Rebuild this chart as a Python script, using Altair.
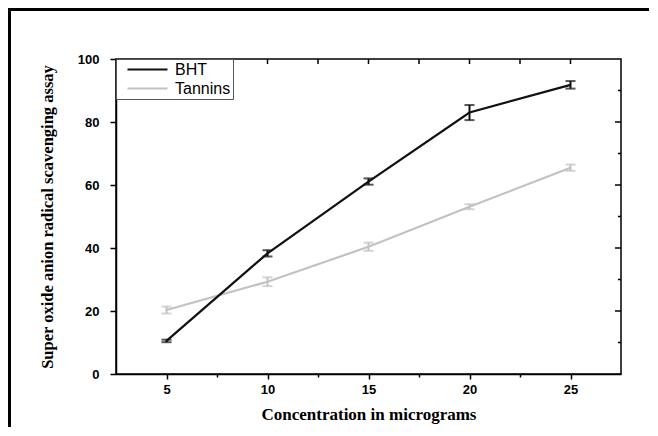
import altair as alt
import pandas as pd

# ---- data ----
conc = [5, 10, 15, 20, 25]
bht = [10.5, 38.3, 61.1, 83.0, 91.8]
bht_err = [0.4, 1.0, 1.0, 2.4, 1.2]
tannins = [20.3, 29.3, 40.4, 53.1, 65.5]
tannins_err = [1.1, 1.4, 1.3, 0.8, 1.0]
series_names = ["BHT", "Tannins"]
series_colors = ["#111111", "#c2c2c2"]
x_tick_values = [5, 7.5, 10, 12.5, 15, 17.5, 20, 22.5, 25]
y_tick_values = [0, 10, 20, 30, 40, 50, 60, 70, 80, 90, 100]
y_major_inner = [20, 40, 60, 80]
y_minor_inner = [10, 30, 50, 70, 90]

rows = []
for name, vals, errs in [("BHT", bht, bht_err), ("Tannins", tannins, tannins_err)]:
    for c, v, e in zip(conc, vals, errs):
        rows.append({"conc": c, "value": v, "err": e, "series": name})
df = pd.DataFrame(rows)

W, H = 505, 315
PAD_L, PAD_T, PAD_R, PAD_B = 108, 51, 28, 53

xscale = alt.Scale(domain=[2.5, 27.5], nice=False, zero=False)
yscale = alt.Scale(domain=[0, 100], nice=False)
cscale = alt.Scale(domain=series_names, range=series_colors)

label_font = "Liberation Sans"
title_font = "Liberation Serif"

x_axis = alt.Axis(
    values=x_tick_values,
    labelExpr="datum.value % 5 == 0 ? datum.label : ''",
    tickSize={"condition": {"test": "datum.value % 5 == 0", "value": 5}, "value": 3},
    grid=False,
    title="Concentration in micrograms",
    titleFont=title_font, titleFontSize=17, titleFontWeight="bold", titleColor="black",
    titlePadding=10,
    labelFont=label_font, labelFontSize=13, labelFontWeight="bold", labelColor="black",
    labelPadding=4,
    domainColor="black", domainWidth=1.5, tickColor="black", tickWidth=1.5,
)
y_axis = alt.Axis(
    values=y_tick_values,
    labelExpr="datum.value % 20 == 0 ? datum.label : ''",
    tickSize={"condition": {"test": "datum.value % 20 == 0", "value": 6}, "value": 3},
    grid=False,
    title="Super oxide anion radical scavenging assay",
    titleFont=title_font, titleFontSize=16.5, titleFontWeight="bold", titleColor="black",
    titlePadding=22,
    labelFont=label_font, labelFontSize=13, labelFontWeight="bold", labelColor="black",
    labelPadding=11,
    domainColor="black", domainWidth=1.5, tickColor="black", tickWidth=1.5,
)

legend = alt.Legend(
    title=None, orient="none", legendX=0, legendY=0,
    symbolType="stroke", symbolSize=1600, symbolStrokeWidth=2.2,
    labelFont=label_font, labelFontSize=16, labelColor="black",
    strokeColor="#555555", fillColor="white", padding=2,
    symbolOffset=8, rowPadding=2, labelOffset=6, clipHeight=17,
)

base = alt.Chart(df).transform_calculate(
    lo="datum.value - datum.err", hi="datum.value + datum.err"
)

def series_layers(name, with_legend):
    b = base.transform_filter(alt.datum.series == name)
    color = alt.Color("series:N", scale=cscale, legend=legend if with_legend else None)
    line = b.mark_line(strokeWidth=2.2).encode(
        x=alt.X("conc:Q", scale=xscale, axis=x_axis),
        y=alt.Y("value:Q", scale=yscale, axis=y_axis),
        color=color,
    )
    bar = b.mark_rule(strokeWidth=2).encode(
        x="conc:Q", y="lo:Q", y2="hi:Q", color=alt.Color("series:N", scale=cscale, legend=None)
    )
    cap_lo = b.mark_tick(size=10, thickness=2, orient="horizontal").encode(
        x="conc:Q", y="lo:Q", color=alt.Color("series:N", scale=cscale, legend=None)
    )
    cap_hi = b.mark_tick(size=10, thickness=2, orient="horizontal").encode(
        x="conc:Q", y="hi:Q", color=alt.Color("series:N", scale=cscale, legend=None)
    )
    return [line, bar, cap_lo, cap_hi]

# inward ticks on the top and right frame
top_ticks = alt.Chart(pd.DataFrame({"t": x_tick_values})).mark_rule(
    color="black", strokeWidth=1.5
).encode(x=alt.X("t:Q", scale=xscale), y=alt.value(0), y2=alt.value(5))
right_major = alt.Chart(pd.DataFrame({"t": y_major_inner})).mark_rule(
    color="black", strokeWidth=1.5
).encode(y=alt.Y("t:Q", scale=yscale), x=alt.value(W), x2=alt.value(W - 6))
right_minor = alt.Chart(pd.DataFrame({"t": y_minor_inner})).mark_rule(
    color="black", strokeWidth=1.5
).encode(y=alt.Y("t:Q", scale=yscale), x=alt.value(W), x2=alt.value(W - 3))

# outer picture frame (top and left edges)
one = pd.DataFrame({"k": [0]})
frame_top = alt.Chart(one).mark_rule(color="black", strokeWidth=3).encode(
    x=alt.value(-PAD_L), x2=alt.value(W + PAD_R), y=alt.value(-PAD_T + 1.5)
)
frame_left = alt.Chart(one).mark_rule(color="black", strokeWidth=3).encode(
    x=alt.value(-PAD_L + 1.5), y=alt.value(-PAD_T), y2=alt.value(H + PAD_B)
)

layers = (
    [top_ticks, right_major, right_minor]
    + series_layers("Tannins", True)
    + series_layers("BHT", True)
    + [frame_top, frame_left]
)

chart = alt.layer(*layers).properties(
    width=W, height=H,
    autosize=alt.AutoSizeParams(type="none"),
    padding={"left": PAD_L, "top": PAD_T, "right": PAD_R, "bottom": PAD_B},
    background="white",
).configure_view(stroke="black", strokeWidth=1.5)

chart.save("out.html", embed_options={"renderer": "svg", "actions": False})
